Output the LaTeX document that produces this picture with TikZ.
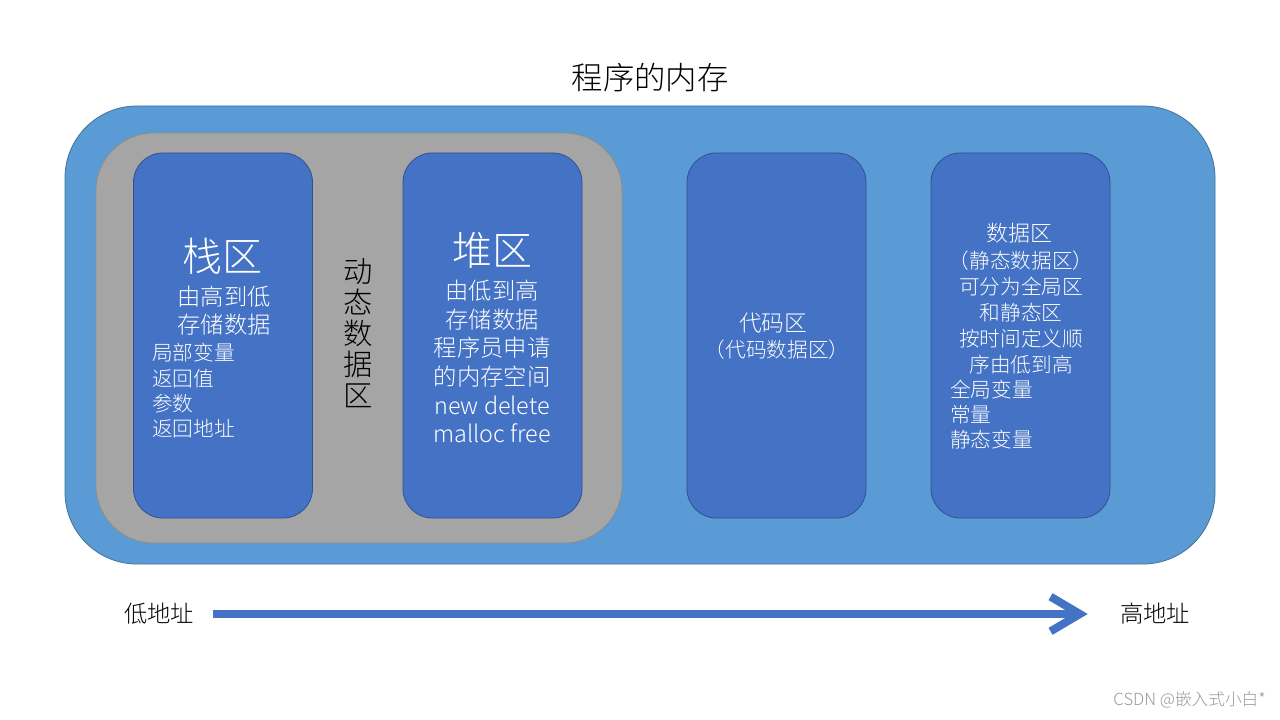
\documentclass[tikz,border=0pt]{standalone}
\usepackage{fontspec}
\setmainfont{Noto Sans CJK SC}
\newfontfamily\lightcjk{Noto Sans CJK SC Light}
\usetikzlibrary{arrows.meta}
\definecolor{outerblue}{HTML}{5B9BD5}
\definecolor{outerline}{HTML}{41719C}
\definecolor{grayfill}{HTML}{A5A5A5}
\definecolor{grayline}{HTML}{8C8C8C}
\definecolor{boxblue}{HTML}{4472C4}
\definecolor{boxline}{HTML}{2F528F}
\begin{document}
\begin{tikzpicture}[x=0.75pt,y=-0.75pt,
  region/.style={draw=boxline, fill=boxblue, rounded corners=22pt, minimum width=134.25pt, minimum height=273.75pt, inner sep=0pt, line width=0.6pt},
  wtxt/.style={text=white, inner sep=0pt, align=center},
  ltxt/.style={text=white, inner sep=0pt, align=left},
  btxt/.style={text=black, inner sep=0pt, align=center}
]
\useasboundingbox[fill=white] (0,0) rectangle (1280,720);

\node[btxt, font=\lightcjk\fontsize{23.5pt}{28pt}\selectfont] (title) at (650,78) {程序的内存};

\node[draw=outerline, fill=outerblue, rounded corners=54pt, minimum width=862.5pt, minimum height=343.5pt, inner sep=0pt, line width=0.6pt] (outer) at (640,335) {};
\node[draw=grayline, fill=grayfill, rounded corners=43pt, minimum width=394.5pt, minimum height=307.5pt, inner sep=0pt, line width=0.6pt] (dyn) at (359,338) {};

\node[region] (stack) at (223,335.5) {};
\node[region] (heap) at (492.5,335.5) {};
\node[region] (code) at (776.5,335.5) {};
\node[region] (data) at (1020.5,335.5) {};

% stack
\node[wtxt, font=\lightcjk\fontsize{30pt}{34pt}\selectfont] (stacktitle) at (222,256) {栈区};
\node[wtxt, font=\lightcjk\fontsize{17.5pt}{21pt}\selectfont] (stackdesc) at (224,311) {由高到低\\存储数据};
\node[ltxt, font=\lightcjk\fontsize{15.5pt}{19pt}\selectfont, anchor=west] (stacklist) at (152,391) {局部变量\\返回值\\参数\\返回地址};

% dynamic label
\node[btxt, font=\lightcjk\fontsize{22pt}{23.3pt}\selectfont] (dynlabel) at (358,333) {动\\态\\数\\据\\区};

% heap
\node[wtxt, font=\lightcjk\fontsize{30pt}{34pt}\selectfont] (heaptitle) at (492,250) {堆区};
\node[wtxt, font=\lightcjk\fontsize{17.5pt}{21.5pt}\selectfont] (heapdesc) at (492,361.5) {由低到高\\存储数据\\程序员申请\\的内存空间\\new delete\\malloc free};

% code
\node[wtxt, font=\lightcjk\fontsize{17pt}{20pt}\selectfont] (codetitle) at (773,323) {代码区};
\node[wtxt, font=\lightcjk\fontsize{15.5pt}{20pt}\selectfont] (codesub) at (777,350) {（代码数据区）};

% data
\node[wtxt, font=\lightcjk\fontsize{16.5pt}{20pt}\selectfont] (datatitle) at (1019,233) {数据区};
\node[wtxt, font=\lightcjk\fontsize{15.5pt}{19.5pt}\selectfont] (datadesc) at (1021,312) {（静态数据区）\\可分为全局区\\和静态区\\按时间定义顺\\序由低到高};
\node[ltxt, font=\lightcjk\fontsize{15.5pt}{19pt}\selectfont, anchor=west] (datalist) at (950,414.5) {全局变量\\常量\\静态变量};

% address arrow
\node[btxt, font=\lightcjk\fontsize{17.5pt}{21pt}\selectfont] (lo) at (159,614) {低地址};
\node[btxt, font=\lightcjk\fontsize{17.5pt}{21pt}\selectfont] (hi) at (1155,614) {高地址};
\draw[boxblue, line width=6pt, -{Straight Barb[length=22pt,width=26pt]}] ([xshift=14pt]lo.east) -- ([xshift=-24pt]hi.west);

\node[text=black!40, inner sep=0pt, font=\lightcjk\fontsize{12.5pt}{15pt}\selectfont, anchor=east] (wm) at (1266,700) {CSDN @嵌入式小白*};
\end{tikzpicture}
\end{document}
